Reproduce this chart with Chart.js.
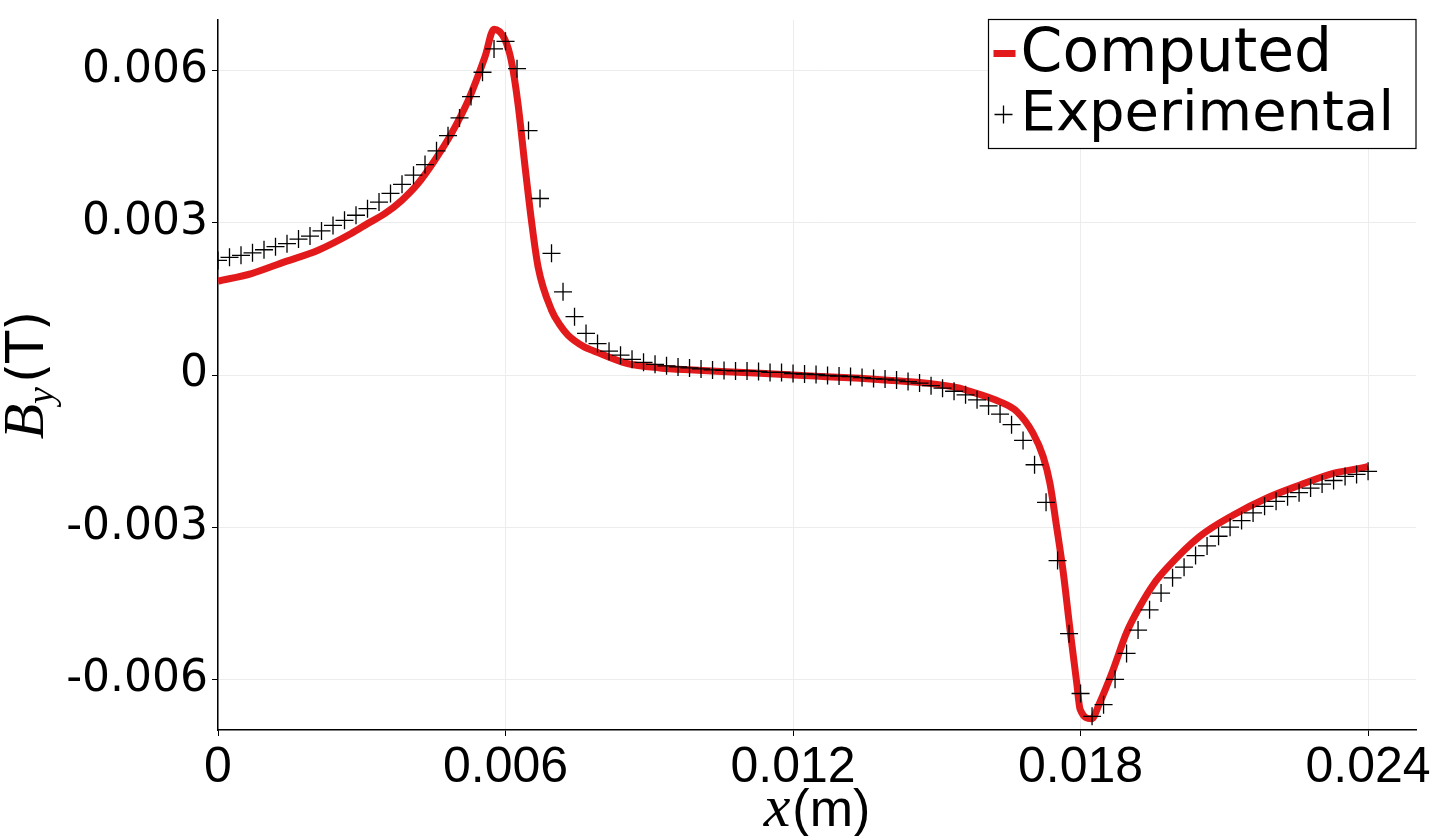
<!DOCTYPE html>
<html>
<head>
<meta charset="utf-8">
<script src="https://cdn.jsdelivr.net/npm/chart.js@4.4.0/dist/chart.umd.min.js"></script>
<style>
  html, body { margin: 0; padding: 0; background: #fff; }
  #wrap { width: 1436px; height: 836px; position: relative; }
</style>
</head>
<body>
<div id="wrap"><canvas id="myChart"></canvas></div>
<script>
// values, x in mm and By in mT (converted to m / T below)
const computedX = [0, 0.7, 1.39, 2.09, 2.78, 3.13, 3.48, 3.83, 4.17, 4.52, 4.87, 5.22, 5.57, 5.76,
  5.98, 6.12, 6.26, 6.4, 6.54, 6.68, 6.96, 7.14, 7.3, 7.65, 7.83, 8.53, 9.22, 9.92, 10.62, 11.31,
  12.0, 12.7, 13.4, 14.09, 14.79, 15.48, 15.62, 16.32, 16.67, 17.01, 17.22, 17.36, 17.5, 17.64,
  17.78, 17.92, 17.99, 18.23, 18.4, 18.68, 18.96, 19.24, 19.52, 19.8, 20.49, 21.19, 21.88, 22.58,
  23.27, 23.97, 24.0];
const computedY = [1.85, 2.0, 2.23, 2.46, 2.79, 2.99, 3.18, 3.44, 3.77, 4.23, 4.76, 5.41, 6.27, 6.82,
  6.63, 6.2, 5.35, 4.17, 3.05, 2.13, 1.28, 0.98, 0.79, 0.55, 0.48, 0.23, 0.14, 0.1, 0.066, 0.033,
  0, -0.033, -0.066, -0.11, -0.16, -0.26, -0.3, -0.53, -0.72, -1.15, -1.61, -2.13, -2.99, -3.9,
  -5.02, -6.07, -6.59, -6.78, -6.46, -5.81, -5.08, -4.56, -4.13, -3.81, -3.18, -2.76, -2.43, -2.17,
  -1.94, -1.81, -1.8];

const experimentalX = [0, 0.24, 0.48, 0.72, 0.96, 1.2, 1.44, 1.68, 1.92, 2.16, 2.4, 2.64, 2.88, 3.12,
  3.36, 3.6, 3.84, 4.08, 4.32, 4.56, 4.8, 5.04, 5.28, 5.52, 5.76, 6.0, 6.24, 6.48, 6.72, 6.96, 7.2,
  7.44, 7.68, 7.92, 8.16, 8.4, 8.64, 8.88, 9.12, 9.36, 9.6, 9.84, 10.08, 10.32, 10.56, 10.8, 11.04,
  11.28, 11.52, 11.76, 12.0, 12.24, 12.48, 12.72, 12.96, 13.2, 13.44, 13.68, 13.92, 14.16, 14.4,
  14.64, 14.88, 15.12, 15.36, 15.6, 15.84, 16.08, 16.32, 16.56, 16.8, 17.04, 17.28, 17.52, 17.76,
  18.0, 18.24, 18.48, 18.72, 18.96, 19.2, 19.44, 19.68, 19.92, 20.16, 20.4, 20.64, 20.88, 21.12,
  21.36, 21.6, 21.84, 22.08, 22.32, 22.56, 22.8, 23.04, 23.28, 23.52, 23.76, 24.0];
const experimentalY = [2.26, 2.32, 2.36, 2.41, 2.47, 2.53, 2.59, 2.68, 2.74, 2.84, 2.95, 3.05, 3.15,
  3.28, 3.41, 3.58, 3.76, 3.94, 4.15, 4.42, 4.72, 5.07, 5.49, 5.97, 6.43, 6.58, 6.04, 4.82, 3.48,
  2.4, 1.64, 1.15, 0.82, 0.62, 0.47, 0.39, 0.31, 0.25, 0.21, 0.18, 0.16, 0.14, 0.12, 0.1, 0.09,
  0.08, 0.08, 0.07, 0.05, 0.05, 0.03, 0.02, 0.01, -0.01, -0.02, -0.03, -0.05, -0.07, -0.08, -0.1,
  -0.13, -0.16, -0.21, -0.26, -0.32, -0.39, -0.49, -0.61, -0.77, -0.98, -1.29, -1.77, -2.51, -3.66,
  -5.1, -6.28, -6.73, -6.5, -6.0, -5.49, -5.03, -4.63, -4.3, -4.0, -3.79, -3.56, -3.37, -3.18, -3.0,
  -2.87, -2.72, -2.59, -2.49, -2.4, -2.32, -2.23, -2.15, -2.08, -2.0, -1.96, -1.9];

const xTicks = [0, 0.006, 0.012, 0.018, 0.024];
const xTickLabels = ["0", "0.006", "0.012", "0.018", "0.024"];
const yTicks = [-0.006, -0.003, 0, 0.003, 0.006];
const yTickLabels = ["-0.006", "-0.003", "0", "0.003", "0.006"];

const RED = "#e31a1c";
const NARROW = "'Liberation Sans', Arial, sans-serif";
const WIDE = "'DejaVu Sans', sans-serif";
const SERIF = "'Liberation Serif', 'DejaVu Serif', serif";

const toPoints = (xs, ys) => xs.map((x, i) => ({ x: x / 1000, y: ys[i] / 1000 }));

// draw a run of differently styled pieces, centred on 0
function drawParts(ctx, parts) {
  let total = 0;
  parts.forEach((p) => {
    ctx.font = p.font;
    p.w = ctx.measureText(p.text).width;
    total += p.w + (p.gap || 0);
  });
  let x = -total / 2;
  parts.forEach((p) => {
    ctx.font = p.font;
    ctx.fillText(p.text, x, p.dy || 0);
    x += p.w + (p.gap || 0);
  });
}

const extras = {
  id: "extras",
  afterDraw(chart) {
    const ctx = chart.ctx;
    const area = chart.chartArea;
    ctx.save();
    ctx.fillStyle = "#000";
    ctx.textBaseline = "alphabetic";
    ctx.textAlign = "left";

    // x axis title
    ctx.save();
    ctx.translate((area.left + area.right) / 2, 826);
    drawParts(ctx, [
      { text: "x", font: "italic 60px " + SERIF, gap: 2 },
      { text: "(m)", font: "52px " + NARROW },
    ]);
    ctx.restore();

    // y axis title
    ctx.save();
    ctx.translate(43, (area.top + area.bottom) / 2);
    ctx.rotate(-Math.PI / 2);
    drawParts(ctx, [
      { text: "B", font: "italic 58px " + SERIF },
      { text: "y", font: "italic 38px " + SERIF, dy: 10, gap: 4 },
      { text: "(T)", font: "52px " + WIDE },
    ]);
    ctx.restore();

    // legend box
    const bx = 988.5, by = area.top - 0.5, bw = area.right - bx, bh = 129;
    ctx.fillStyle = "#fff";
    ctx.fillRect(bx, by, bw, bh);
    ctx.strokeStyle = "#000";
    ctx.lineWidth = 1.2;
    ctx.strokeRect(bx, by, bw, bh);

    const ds = chart.data.datasets;
    ctx.fillStyle = "#000";
    // computed
    ctx.strokeStyle = ds[0].borderColor;
    ctx.lineWidth = 7;
    ctx.beginPath();
    ctx.moveTo(bx + 5, by + 34);
    ctx.lineTo(bx + 27, by + 34);
    ctx.stroke();
    ctx.font = "60px " + WIDE;
    ctx.fillText(ds[0].label, bx + 32, by + 51);
    // experimental
    ctx.strokeStyle = ds[1].borderColor;
    ctx.lineWidth = 1.3;
    ctx.beginPath();
    ctx.moveTo(bx + 6, by + 95);
    ctx.lineTo(bx + 24, by + 95);
    ctx.moveTo(bx + 15, by + 86);
    ctx.lineTo(bx + 15, by + 104);
    ctx.stroke();
    ctx.font = "56px " + WIDE;
    ctx.fillText(ds[1].label, bx + 32, by + 110);
    ctx.restore();
  },
};

const ctx = document.getElementById("myChart").getContext("2d");
new Chart(ctx, {
  type: "scatter",
  data: {
    datasets: [
      {
        label: "Computed",
        data: toPoints(computedX, computedY),
        showLine: true,
        borderColor: RED,
        backgroundColor: RED,
        borderWidth: 7,
        pointRadius: 0,
        cubicInterpolationMode: "monotone",
        order: 1,
      },
      {
        label: "Experimental",
        data: toPoints(experimentalX, experimentalY),
        showLine: false,
        pointStyle: "cross",
        pointRadius: 9,
        pointBorderWidth: 1.3,
        borderColor: "#000",
        backgroundColor: "#000",
        order: 0,
      },
    ],
  },
  options: {
    responsive: true,
    maintainAspectRatio: false,
    animation: false,
    layout: { padding: { top: 20, right: 20, left: 0, bottom: 0 } },
    plugins: { legend: { display: false }, tooltip: { enabled: false } },
    scales: {
      x: {
        type: "linear",
        min: 0,
        max: 0.025,
        afterBuildTicks: (scale) => {
          scale.ticks = xTicks.map((v) => ({ value: v }));
        },
        afterFit: (scale) => {
          scale.height = 106;
          scale.paddingLeft = 0;
          scale.paddingRight = 0;
        },
        ticks: {
          autoSkip: false,
          maxRotation: 0,
          padding: 2,
          color: "#000",
          font: { family: NARROW, size: 50 },
          callback: (v, i) => xTickLabels[i],
        },
        grid: { color: "#ececec", lineWidth: 1, tickLength: 6, tickColor: "#000" },
        border: { display: true, color: "#000", width: 1.5 },
      },
      y: {
        min: -0.007,
        max: 0.007,
        afterBuildTicks: (scale) => {
          scale.ticks = yTicks.map((v) => ({ value: v }));
        },
        afterFit: (scale) => {
          scale.width = 218;
          scale.paddingTop = 0;
          scale.paddingBottom = 0;
        },
        ticks: {
          autoSkip: false,
          padding: 4,
          color: "#000",
          font: { family: WIDE, size: 44 },
          callback: (v, i) => yTickLabels[i],
        },
        grid: { color: "#ececec", lineWidth: 1, tickLength: 6, tickColor: "#000" },
        border: { display: true, color: "#000", width: 1.5 },
      },
    },
  },
  plugins: [extras],
});
</script>
</body>
</html>
